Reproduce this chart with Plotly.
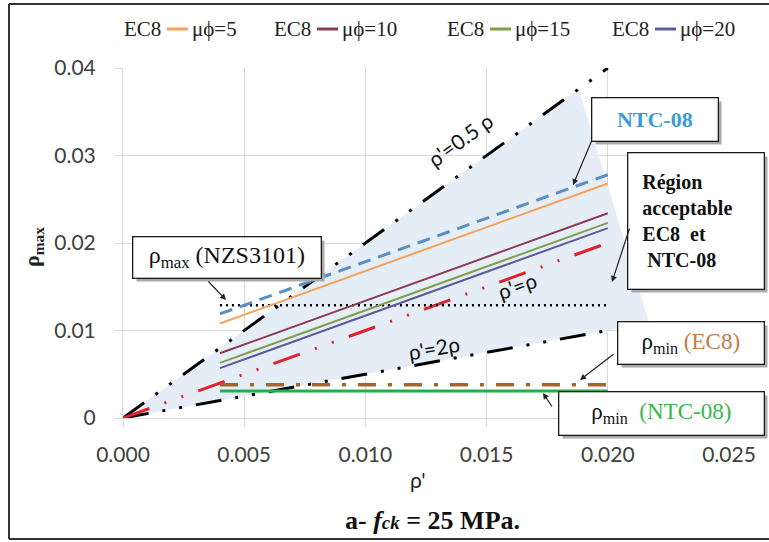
import plotly.graph_objects as go

# ---------------- data ----------------
# reinforcement-ratio reference lines (start at the origin)
ratio_x = [0.0, 0.020]
ratio_half = [0.0, 0.040]   # rho' = 0.5 rho
ratio_one = [0.0, 0.020]    # rho' = rho
ratio_two = [0.0, 0.010]    # rho' = 2 rho

# code limits over the studied rho' range
limit_x = [0.004, 0.020]
ntc08_max = [0.0119, 0.0278]
ec8_mu5 = [0.0108, 0.0268]
ec8_mu10 = [0.0074, 0.0234]
ec8_mu15 = [0.0063, 0.0223]
ec8_mu20 = [0.0057, 0.0217]
nzs3101_max = [0.0129, 0.0129]
ec8_min = [0.0038, 0.0038]
ntc08_min = [0.0031, 0.0031]

# acceptable region (EC8 and NTC-08)
region_x = [0.0, 0.0188, 0.0217, 0.020, 0.0]
region_y = [0.0, 0.0376, 0.0109, 0.010, 0.0]

ec8_names = ["μϕ=5", "μϕ=10", "μϕ=15", "μϕ=20"]
ec8_colors = ["#f4a25b", "#8f3a52", "#7ea04d", "#5b5a9c"]
ec8_series = [ec8_mu5, ec8_mu10, ec8_mu15, ec8_mu20]

x_ticks = [0.0, 0.005, 0.010, 0.015, 0.020, 0.025]
x_ticktext = ["0.000", "0.005", "0.010", "0.015", "0.020", "0.025"]
y_ticks = [0.0, 0.01, 0.02, 0.03, 0.04]
y_ticktext = ["0", "0.01", "0.02", "0.03", "0.04"]

# ---------------- figure ----------------
W, H = 769, 542
ML, MR, MT, MB = 123, 40, 68, 124
PW, PH = W - ML - MR, H - MT - MB


def px(xp):
    return (xp - ML) / PW


def py(yp):
    return (H - MB - yp) / PH


SERIF = "Liberation Serif, Times New Roman, serif"
SANS = "Lato, Open Sans, sans-serif"
DASH_DOT2 = "26px,14px,3px,14px,3px,14px"

fig = go.Figure()

fig.add_trace(go.Scatter(x=region_x, y=region_y, fill="toself", fillcolor="#e5edf7",
                         mode="lines", line=dict(width=0), hoverinfo="skip"))

fig.add_trace(go.Scatter(x=ratio_x, y=ratio_half, mode="lines",
                         line=dict(color="black", width=3, dash=DASH_DOT2)))
fig.add_trace(go.Scatter(x=ratio_x, y=ratio_two, mode="lines",
                         line=dict(color="black", width=3, dash=DASH_DOT2)))
fig.add_trace(go.Scatter(x=ratio_x, y=ratio_one, mode="lines",
                         line=dict(color="#e3202b", width=3, dash="28px,16px,2px,16px,2px,16px")))

fig.add_trace(go.Scatter(x=limit_x, y=nzs3101_max, mode="lines",
                         line=dict(color="black", width=2.5, dash="2px,4px")))
fig.add_trace(go.Scatter(x=limit_x, y=ntc08_max, mode="lines",
                         line=dict(color="#5a8fc4", width=3, dash="13px,8px")))
for name, color, vals in zip(ec8_names, ec8_colors, ec8_series):
    fig.add_trace(go.Scatter(x=limit_x, y=vals, mode="lines", name=name,
                             line=dict(color=color, width=2)))
fig.add_trace(go.Scatter(x=limit_x, y=ec8_min, mode="lines",
                         line=dict(color="#a8622a", width=3.5, dash="18px,12px,4px,12px")))
fig.add_trace(go.Scatter(x=limit_x, y=ntc08_min, mode="lines",
                         line=dict(color="#22b04b", width=3)))

annotations = []
shapes = []


def paper_text(xp, yp, text, font, **kw):
    annotations.append(dict(xref="paper", yref="paper", x=px(xp), y=py(yp), text=text,
                            showarrow=False, xanchor=kw.pop("xanchor", "center"),
                            yanchor="middle", font=font, **kw))


# manual legend: "EC8 — μϕ=…"
legend_font = dict(family=SERIF, size=21, color="#222")
legend_starts = [122, 272, 445, 610]
for x0, name, color in zip(legend_starts, ec8_names, ec8_colors):
    paper_text(x0, 29, "EC8", legend_font, xanchor="left")
    shapes.append(dict(type="line", xref="paper", yref="paper", x0=px(x0 + 45), x1=px(x0 + 66),
                       y0=py(29), y1=py(29), line=dict(color=color, width=3)))
    paper_text(x0 + 68, 29, name, legend_font, xanchor="left")

# labels along the ratio lines
for txt, xd, yd, ang in [("ρ'=0.5 ρ", 0.0139, 0.0318, -36),
                         ("ρ'=ρ", 0.01625, 0.0152, -20),
                         ("ρ'=2ρ", 0.01283, 0.0081, -10)]:
    annotations.append(dict(x=xd, y=yd, text=txt, showarrow=False, textangle=ang,
                            font=dict(family=SANS, size=21, color="#111")))


def boxed(text, cx, cy, w, h, size, align="center", pad=0):
    xd = (cx - ML) / PW * 0.025
    yd = (H - MB - cy) / PH * 0.04
    common = dict(x=xd, y=yd, text=text, showarrow=False, width=w - 2 * pad, height=h - 2 * pad,
                  borderpad=pad, align=align, xanchor="center", yanchor="middle")
    # drop shadow
    annotations.append(dict(common, xshift=4, yshift=-4, bgcolor="#a9a9a9",
                            font=dict(family=SERIF, size=size, color="rgba(0,0,0,0)")))
    annotations.append(dict(common, bgcolor="white", bordercolor="#1a1a1a", borderwidth=1.3,
                            font=dict(family=SERIF, size=size, color="#111")))


def arrow(tail, head):
    tx, ty = tail
    hx, hy = head
    annotations.append(dict(x=(hx - ML) / PW * 0.025, y=(H - MB - hy) / PH * 0.04,
                            ax=(tx - ML) / PW * 0.025, ay=(H - MB - ty) / PH * 0.04,
                            axref="x", ayref="y", text="", showarrow=True,
                            arrowhead=2, arrowsize=1, arrowwidth=1.2, arrowcolor="#222"))


boxed("ρ<sub>max</sub> (NZS3101)", 226.5, 257, 187, 40, 24)
arrow((207, 280), (226, 300))

boxed("<b><span style='color:#3b9bd6'>NTC-08</span></b>", 654.5, 119, 125, 42, 22)
arrow((592, 140), (573, 185))

boxed("<b>Région<br>acceptable<br>EC8&nbsp;&nbsp;et<br>&nbsp;NTC-08</b>", 695.5, 220.5, 135, 135, 20,
      align="left", pad=14)
arrow((630, 227), (612, 282))

boxed("ρ<sub>min</sub> <span style='color:#c27b45'>(EC8)</span>", 690.5, 342.5, 145, 41, 23)
arrow((615, 353), (580, 380))

boxed("ρ<sub>min</sub>  <span style='color:#39b54a'>(NTC-08)</span>", 661, 413, 204, 42, 23)
arrow((553, 408), (543, 393))

# axis titles and caption
paper_text(33, 247, "<b>ρ<sub>max</sub></b>", dict(family=SERIF, size=22, color="#222"), textangle=-90)
paper_text(418, 480, "ρ'", dict(family=SANS, size=21, color="#222"))
paper_text(432, 520, "<b>a- <i>f<span style='font-size:19px'>ck</span></i> = 25 MPa.</b>",
           dict(family=SERIF, size=26, color="#111"))

# outer frame
frame = dict(color="#333", width=2)
shapes.append(dict(type="line", xref="paper", yref="paper", x0=px(9), x1=px(9), y0=py(4), y1=py(539), line=frame))
shapes.append(dict(type="line", xref="paper", yref="paper", x0=px(9), x1=px(769), y0=py(4), y1=py(4), line=frame))
shapes.append(dict(type="line", xref="paper", yref="paper", x0=px(9), x1=px(769), y0=py(539), y1=py(539), line=frame))

axis_common = dict(showgrid=True, gridcolor="#d9d9d9", gridwidth=1, zeroline=False,
                   showline=True, linecolor="#d9d9d9", linewidth=1,
                   ticks="outside", ticklen=8, tickcolor="#d9d9d9",
                   tickfont=dict(family=SANS, size=21, color="#404040"))

fig.update_layout(
    width=W, height=H,
    margin=dict(l=ML, r=MR, t=MT, b=MB),
    paper_bgcolor="white", plot_bgcolor="white",
    showlegend=False,
    xaxis=dict(range=[0, 0.025], tickvals=x_ticks, ticktext=x_ticktext,
               ticklabelstandoff=10, **axis_common),
    yaxis=dict(range=[0, 0.04], tickvals=y_ticks, ticktext=y_ticktext,
               ticklabelstandoff=14, **axis_common),
    annotations=annotations,
    shapes=shapes,
)

fig.write_html("out.html")
